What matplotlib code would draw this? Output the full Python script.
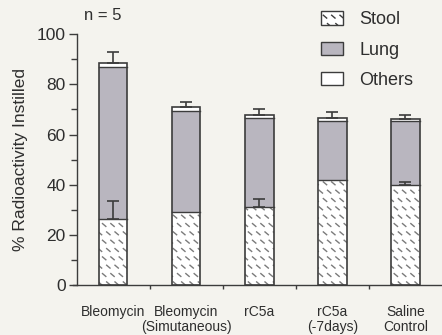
import matplotlib
matplotlib.use("Agg")
import matplotlib.pyplot as plt
import matplotlib.hatch as mhatch
from matplotlib.patches import Patch
from matplotlib.path import Path
import numpy as np

# ----------------------------
# Data
# ----------------------------
groups = ["Bleomycin", "Bleomycin\n(Simutaneous)", "rC5a", "rC5a\n(-7days)", "Saline\nControl"]
stool = [26.5, 29.0, 31.3, 42.0, 40.0]
lung = [60.3, 40.5, 35.2, 23.3, 25.2]
others = [1.9, 1.6, 1.3, 1.3, 1.0]
total_err = [4.0, 2.0, 2.4, 2.4, 1.6]
stool_err = [6.9, 0.0, 3.1, 0.0, 1.2]


# short staggered dashes for the "Stool" fill (takes over the '*' hatch)
class DashHatch(mhatch.Shapes):
    filled = True
    size = 1.0
    path = Path([(-0.2, 0.17), (0.2, -0.17)], [Path.MOVETO, Path.LINETO])

    def __init__(self, hatch, density):
        self.num_rows = hatch.count('*') * density
        self.shape_vertices = self.path.vertices
        self.shape_codes = self.path.codes
        super().__init__(hatch, density)


mhatch._hatch_types[-1] = DashHatch

plt.rcParams['font.family'] = ['Liberation Sans', 'DejaVu Sans']
plt.rcParams['hatch.linewidth'] = 1.0
plt.rcParams['hatch.color'] = '#7a7a7a'

BG = "#f4f3ee"
EDGE = "#3c3c3c"
LUNG = "#b9b6bf"
TXT = "#2e2e2e"

fig = plt.figure(figsize=(4.42, 3.35), dpi=100, facecolor=BG)
ax = fig.add_axes([0.174, 0.149, 0.826, 0.749], facecolor=BG)

x = np.arange(len(groups))
w = 0.385
stool = np.array(stool)
lung = np.array(lung)
others = np.array(others)
total = stool + lung + others

ax.bar(x, stool, w, color="white", edgecolor="#7a7a7a", hatch="**", linewidth=0)
ax.bar(x, lung, w, bottom=stool, color=LUNG, linewidth=0)
ax.bar(x, others, w, bottom=stool + lung, color="white", linewidth=0)
# outlines
ax.bar(x, total, w, fill=False, edgecolor=EDGE, linewidth=1.2)
for xi, s, l in zip(x, stool, lung):
    ax.plot([xi - w / 2, xi + w / 2], [s, s], color=EDGE, lw=1.0)
    ax.plot([xi - w / 2, xi + w / 2], [s + l, s + l], color=EDGE, lw=1.0)

ax.errorbar(x, total, yerr=[np.zeros(5), total_err], fmt="none", ecolor=EDGE,
            elinewidth=1.2, capsize=4, capthick=1.2)
se = np.array(stool_err)
m = se > 0
ax.errorbar(x[m], stool[m], yerr=[np.zeros(m.sum()), se[m]], fmt="none", ecolor=EDGE,
            elinewidth=1.2, capsize=4, capthick=1.2)

ax.set_xlim(-0.5, 4.5)
ax.set_ylim(0, 100)
ax.spines["top"].set_visible(False)
ax.spines["right"].set_visible(False)
for sp in ("left", "bottom"):
    ax.spines[sp].set_color(EDGE)
    ax.spines[sp].set_linewidth(1.0)
ax.spines["bottom"].set_bounds(-0.56, 4.5)
ax.set_yticks([0, 20, 40, 60, 80, 100])
ax.set_yticks(np.arange(10, 100, 20), minor=True)
ax.tick_params(axis="y", which="major", length=6, width=1.0, color=EDGE,
               labelsize=12.5, labelcolor=TXT, pad=2)
ax.tick_params(axis="y", which="minor", length=4, width=1.0, color=EDGE)
ax.set_xticks([0.5, 1.5, 2.5, 3.5])
ax.set_xticklabels([])
ax.tick_params(axis="x", length=3, width=1.0, color=EDGE)
ax.set_ylabel("% Radioactivity Instilled", fontsize=12.5, color=TXT, labelpad=6)

for xi, g in zip(x, groups):
    ax.text(xi, -8.0, g, ha="center", va="top", fontsize=10, color=TXT,
            linespacing=1.1)

fig.text(0.19, 0.955, "n = 5", fontsize=12, color=TXT, va="center")

# legend
handles = [Patch(facecolor="white", edgecolor=EDGE, hatch="**", label="Stool"),
           Patch(facecolor=LUNG, edgecolor=EDGE, label="Lung"),
           Patch(facecolor="white", edgecolor=EDGE, label="Others")]
leg = fig.legend(handles=handles, loc="upper left", bbox_to_anchor=(0.69, 1.015),
                 frameon=False, fontsize=13, handlelength=1.2, handleheight=0.75,
                 handletextpad=0.9, labelspacing=0.74, labelcolor=TXT)

fig.savefig("out.png", dpi=100, facecolor=BG)
